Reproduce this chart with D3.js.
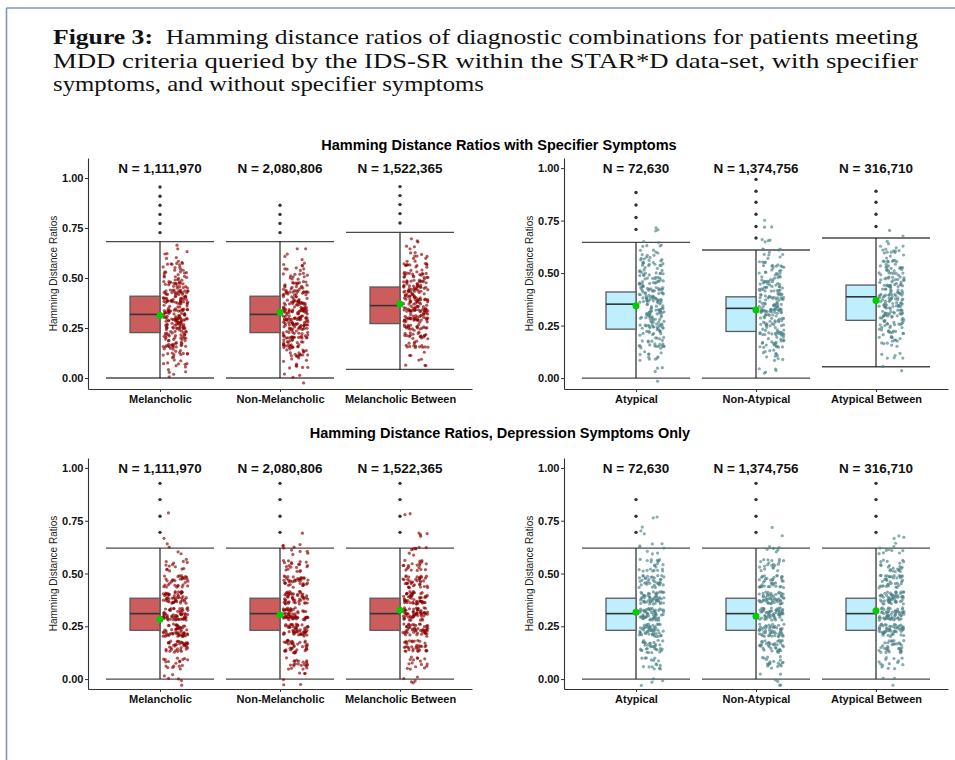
<!DOCTYPE html>
<html>
<head>
<meta charset="utf-8">
<script src="https://cdn.jsdelivr.net/npm/d3@7"></script>
<style>
	body { margin: 0; background: #fff; }
	text { font-family: "Liberation Sans", Arial, sans-serif; }
</style>
</head>
<body>
<script>
// categories and group sizes
const melCategories = ["Melancholic", "Non-Melancholic", "Melancholic Between"];
const atyCategories = ["Atypical", "Non-Atypical", "Atypical Between"];
const melN = [1111970, 2080806, 1522365];
const atyN = [72630, 1374756, 316710];
const yTicks = [0, 0.25, 0.5, 0.75, 1];

// box stats: [lower whisker, q1, median, q3, upper whisker]
const specMelBox = [[0.000, 0.227, 0.318, 0.409, 0.682], [0.000, 0.227, 0.318, 0.409, 0.682], [0.043, 0.272, 0.362, 0.455, 0.728]];
const specMelMean = [0.313, 0.328, 0.370];
const specMelOutliers = [[0.727, 0.773, 0.818, 0.864, 0.909, 0.955], [0.727, 0.773, 0.818, 0.864], [0.775, 0.822, 0.867, 0.912, 0.957]];

const specAtyBox = [[0.000, 0.233, 0.352, 0.410, 0.646], [0.000, 0.222, 0.332, 0.387, 0.610], [0.054, 0.275, 0.387, 0.443, 0.667]];
const specAtyMean = [0.344, 0.324, 0.370];
const specAtyOutliers = [[0.708, 0.765, 0.824, 0.884], [0.667, 0.722, 0.780, 0.837, 0.890, 0.946], [0.722, 0.780, 0.837, 0.890]];

const depMelBox = [[0.000, 0.231, 0.310, 0.383, 0.620], [0.000, 0.231, 0.310, 0.383, 0.620], [0.000, 0.231, 0.310, 0.383, 0.620]];
const depMelMean = [0.283, 0.305, 0.326];
const depMelOutliers = [[0.695, 0.771, 0.850, 0.927], [0.695, 0.771, 0.850, 0.927], [0.695, 0.771, 0.850, 0.927]];

const depAtyBox = [[0.000, 0.231, 0.310, 0.383, 0.620], [0.000, 0.231, 0.310, 0.383, 0.620], [0.000, 0.231, 0.310, 0.383, 0.620]];
const depAtyMean = [0.316, 0.297, 0.323];
const depAtyOutliers = [[0.695, 0.771, 0.850], [0.695, 0.771, 0.850, 0.927], [0.695, 0.771, 0.850, 0.927]];

// jittered sample: distinct ratio levels and how many points sit at each
const specMelLevels = [0, 0.045, 0.091, 0.136, 0.182, 0.227, 0.273, 0.318, 0.364, 0.409, 0.455, 0.5, 0.545, 0.591, 0.636, 0.682];
const specMelCounts = [
	[2, 6, 10, 16, 24, 30, 34, 36, 34, 30, 26, 18, 12, 7, 4, 0],
	[3, 6, 10, 16, 26, 34, 38, 38, 34, 28, 22, 14, 8, 5, 2, 0],
	[0, 2, 4, 8, 14, 22, 28, 32, 36, 34, 30, 24, 16, 10, 6, 3]
];
const specAtyLevels = [0, 0.059, 0.118, 0.176, 0.235, 0.294, 0.353, 0.412, 0.471, 0.529, 0.588, 0.647, 0.706, 0.765];
const specAtyCounts = [
	[1, 4, 12, 22, 30, 34, 36, 34, 28, 20, 14, 6, 3, 0],
	[2, 4, 12, 22, 32, 36, 36, 32, 26, 18, 10, 4, 2, 1],
	[0, 2, 6, 14, 24, 32, 36, 36, 30, 22, 14, 6, 1, 0]
];
const depLevels = [0, 0.077, 0.154, 0.231, 0.308, 0.385, 0.462, 0.538, 0.615, 0.692, 0.769];
const depMelCounts = [
	[6, 18, 40, 55, 60, 50, 32, 14, 4, 1, 1],
	[6, 22, 40, 52, 58, 50, 36, 20, 10, 1, 0],
	[5, 16, 36, 50, 58, 52, 38, 20, 8, 4, 2]
];
const depAtyCounts = [
	[4, 16, 34, 50, 56, 52, 36, 22, 8, 3, 2],
	[6, 20, 36, 50, 56, 52, 36, 20, 6, 2, 0],
	[3, 14, 34, 52, 58, 54, 38, 22, 10, 3, 0]
];

const svg = d3.select('body').append('svg')
	.attr('width', 955)
	.attr('height', 760);

// page frame
svg.append('line').attr('x1', 6.5).attr('x2', 955).attr('y1', 8).attr('y2', 8)
	.attr('stroke', '#7f96b5').attr('stroke-width', 1.6);
svg.append('line').attr('x1', 6.5).attr('x2', 6.5).attr('y1', 8).attr('y2', 760)
	.attr('stroke', '#7f96b5').attr('stroke-width', 1.6);

// caption
const cap = svg.append('g')
	.style('font-family', '"Liberation Serif", "Times New Roman", serif')
	.style('font-size', '21px')
	.attr('fill', '#111');
const l1 = cap.append('text').attr('x', 53).attr('y', 44)
	.attr('textLength', 865).attr('lengthAdjust', 'spacingAndGlyphs')
	.style('font-family', 'inherit');
l1.append('tspan').attr('font-weight', 'bold').text('Figure 3:');
l1.append('tspan').text('\u00a0 Hamming distance ratios of diagnostic combinations for patients meeting');
cap.append('text').attr('x', 53).attr('y', 68)
	.attr('textLength', 865).attr('lengthAdjust', 'spacingAndGlyphs')
	.style('font-family', 'inherit')
	.text('MDD criteria queried by the IDS-SR within the STAR*D data-set, with specifier');
cap.append('text').attr('x', 53).attr('y', 91)
	.attr('textLength', 431).attr('lengthAdjust', 'spacingAndGlyphs')
	.style('font-family', 'inherit')
	.text('symptoms, and without specifier symptoms');

// row titles
svg.append('text').attr('x', 499).attr('y', 150).attr('text-anchor', 'middle')
	.attr('font-weight', 'bold').attr('font-size', 14.5)
	.text('Hamming Distance Ratios with Specifier Symptoms');
svg.append('text').attr('x', 500).attr('y', 438).attr('text-anchor', 'middle')
	.attr('font-weight', 'bold').attr('font-size', 14.5)
	.text('Hamming Distance Ratios, Depression Symptoms Only');

const red = { fill: '#cd5c5c', point: '#8b0000' };
const teal = { fill: '#bfefff', point: '#4a8085' };

const panels = [
	{ x0: 88, top: 158, bottom: 389, domain: [-0.055, 1.1], cats: melCategories, n: melN, box: specMelBox, mean: specMelMean, out: specMelOutliers, levels: specMelLevels, counts: specMelCounts, col: red },
	{ x0: 564, top: 158, bottom: 389, domain: [-0.052, 1.048], cats: atyCategories, n: atyN, box: specAtyBox, mean: specAtyMean, out: specAtyOutliers, levels: specAtyLevels, counts: specAtyCounts, col: teal },
	{ x0: 88, top: 458, bottom: 689, domain: [-0.047, 1.047], cats: melCategories, n: melN, box: depMelBox, mean: depMelMean, out: depMelOutliers, levels: depLevels, counts: depMelCounts, col: red },
	{ x0: 564, top: 458, bottom: 689, domain: [-0.047, 1.047], cats: atyCategories, n: atyN, box: depAtyBox, mean: depAtyMean, out: depAtyOutliers, levels: depLevels, counts: depAtyCounts, col: teal }
];

const fmtN = d3.format(',');
// fixed-seed jitter so the spread is the same on every render
const jit = d3.randomLcg(0.4217);

panels.forEach(p => {
	const x = d3.scalePoint().domain(p.cats).range([p.x0, p.x0 + 384]).padding(0.6);
	const y = d3.scaleLinear().domain(p.domain).range([p.bottom, p.top]);
	const g = svg.append('g');

	// axes
	const ya = g.append('g').attr('transform', `translate(${p.x0},0)`)
		.call(d3.axisLeft(y).tickValues(yTicks).tickFormat(d3.format('.2f')).tickSize(3).tickSizeOuter(0).tickPadding(1.5));
	const xa = g.append('g').attr('transform', `translate(0,${p.bottom})`)
		.call(d3.axisBottom(x).tickSize(3).tickSizeOuter(0).tickPadding(3));
	[ya, xa].forEach(a => {
		a.select('.domain').attr('stroke', '#333').attr('stroke-width', 1.1);
		a.selectAll('.tick line').attr('stroke', '#333');
		a.selectAll('.tick text').attr('fill', '#111').attr('font-weight', 'bold')
			.attr('font-size', 11).style('font-family', '"Liberation Sans", Arial, sans-serif');
	});

	g.append('text')
		.attr('transform', `translate(${p.x0 - 31},${(p.top + p.bottom) / 2}) rotate(-90)`)
		.attr('text-anchor', 'middle').attr('font-size', 10).attr('fill', '#222')
		.text('Hamming Distance Ratios');

	p.cats.forEach((c, i) => {
		const cx = x(c);
		const [lo, q1, med, q3, hi] = p.box[i];

		// whisker caps and stem
		g.selectAll(null).data([lo, hi]).join('line')
			.attr('x1', cx - 54).attr('x2', cx + 54)
			.attr('y1', d => y(d)).attr('y2', d => y(d))
			.attr('stroke', '#4a4a4a').attr('stroke-width', 1.4);
		g.append('line').attr('x1', cx).attr('x2', cx).attr('y1', y(lo)).attr('y2', y(hi))
			.attr('stroke', '#111').attr('stroke-width', 1.1);

		// half box on the left
		g.append('rect').attr('x', cx - 30).attr('width', 30)
			.attr('y', y(q3)).attr('height', y(q1) - y(q3))
			.attr('fill', p.col.fill).attr('stroke', '#5a5a5a').attr('stroke-width', 1.3);
		g.append('line').attr('x1', cx - 30).attr('x2', cx).attr('y1', y(med)).attr('y2', y(med))
			.attr('stroke', '#333').attr('stroke-width', 1.6);

		// jittered sample on the right
		const pts = [];
		p.levels.forEach((lv, k) => {
			for (let m = 0; m < p.counts[i][k]; m++) {
				pts.push({ v: lv, u: jit(), w: jit() });
			}
		});
		g.selectAll(null).data(pts).join('circle')
			.attr('cx', d => cx + 3 + d.u * 25)
			.attr('cy', d => y(d.v + (d.w - 0.5) * 0.06))
			.attr('r', 1.6)
			.attr('fill', p.col.point).attr('fill-opacity', 0.65);

		// outliers
		g.selectAll(null).data(p.out[i]).join('circle')
			.attr('cx', cx).attr('cy', d => y(d)).attr('r', 1.7).attr('fill', '#333');

		// mean
		g.append('circle').attr('cx', cx).attr('cy', y(p.mean[i])).attr('r', 3.5).attr('fill', '#00cc00');

		// group size
		g.append('text').attr('x', cx).attr('y', p.top + 15).attr('text-anchor', 'middle')
			.attr('font-weight', 'bold').attr('font-size', 13.5).attr('fill', '#111')
			.text('N = ' + fmtN(p.n[i]));
	});
});
</script>
</body>
</html>
